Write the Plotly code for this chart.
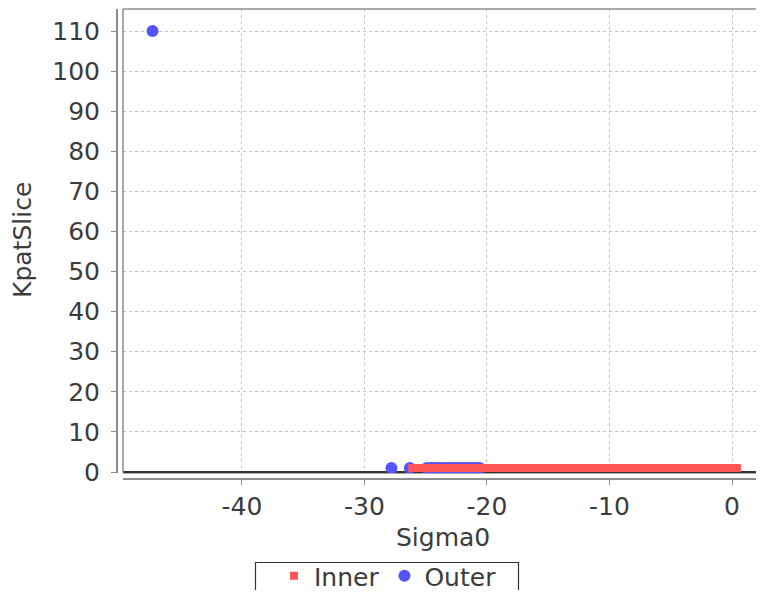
import plotly.graph_objects as go

# Inner series (red squares), KpatSlice vs Sigma0
inner_x = [-26.1, -25.6, -25.1, -24.6, -24.1, -23.6, -23.1, -22.6, -22.1, -21.6,
           -21.1, -20.6, -20.1, -19.6, -19.1, -18.6, -18.1, -17.6, -17.1, -16.6,
           -16.1, -15.6, -15.1, -14.6, -14.1, -13.6, -13.1, -12.6, -12.1, -11.6,
           -11.1, -10.6, -10.1, -9.6, -9.1, -8.6, -8.1, -7.6, -7.1, -6.6,
           -6.1, -5.6, -5.1, -4.6, -4.1, -3.6, -3.1, -2.6, -2.1, -1.6,
           -1.1, -0.6, -0.1, 0.4]
inner_y = [1] * len(inner_x)

# Outer series (blue circles)
outer_x = [-47.3, -27.8, -26.3, -24.9, -24.6, -24.4, -24.1, -23.9, -23.6, -23.4,
           -23.1, -22.9, -22.6, -22.4, -22.1, -21.9, -21.6, -21.4, -21.1, -20.9,
           -20.6]
outer_y = [110] + [1] * 20

x_ticks = [-40, -30, -20, -10, 0]
y_ticks = [0, 10, 20, 30, 40, 50, 60, 70, 80, 90, 100, 110]

# page body has an 8px margin; figure placed at (8, 8) in the window
W, H = 756, 582
OFF = 8
FONT = "DejaVu Sans"
TXT = "#3c3c3c"
AXC = "#8c8c8c"
GRID = "#c4c4c4"


def px_x(v):
    return (v - OFF) / W


def px_y(v):
    return (H - (v - OFF)) / H


fig = go.Figure()
fig.add_trace(go.Scatter(
    x=outer_x, y=outer_y, mode="markers", name="Outer", legendrank=2,
    marker=dict(symbol="circle", size=12, color="#5555ff", line=dict(width=0)),
))
fig.add_trace(go.Scatter(
    x=inner_x, y=inner_y, mode="markers", name="Inner", legendrank=1,
    marker=dict(symbol="square", size=8, color="#ff5555", line=dict(width=0)),
))

x_dom = [px_x(123), 1.0]
y_dom = [px_y(473), px_y(9)]

fig.update_layout(
    width=W, height=H,
    margin=dict(l=0, r=0, t=0, b=0, autoexpand=False),
    paper_bgcolor="white", plot_bgcolor="white",
    font=dict(family=FONT, size=24, color=TXT),
    showlegend=True,
    legend=dict(
        orientation="h", x=px_x(388), xanchor="center", y=px_y(576), yanchor="middle",
        borderwidth=0, bgcolor="rgba(0,0,0,0)",
        font=dict(family=FONT, size=25, color=TXT),
        itemsizing="trace",
    ),
    xaxis=dict(
        domain=x_dom, anchor="free", position=px_y(479),
        range=[-49.71, 2.61], tickvals=x_ticks, ticktext=[str(v) for v in x_ticks],
        showgrid=True, gridcolor=GRID, griddash="3px,3px", gridwidth=1,
        zeroline=False, showline=True, linecolor=AXC, linewidth=2,
        ticks="outside", ticklen=5, tickcolor=AXC, tickwidth=1,
        tickfont=dict(family=FONT, size=25, color=TXT),
    ),
    yaxis=dict(
        domain=y_dom, anchor="free", position=px_x(117),
        range=[-0.25, 115.49], tickvals=y_ticks, ticktext=[str(v) for v in y_ticks],
        showgrid=True, gridcolor=GRID, griddash="3px,3px", gridwidth=1,
        zeroline=True, zerolinecolor="#333333", zerolinewidth=1.5,
        showline=True, linecolor=AXC, linewidth=2, mirror=False,
        ticks="outside", ticklen=5, tickcolor=AXC, tickwidth=1,
        ticklabelstandoff=6,
        tickfont=dict(family=FONT, size=25, color=TXT),
    ),
    annotations=[
        dict(text="Sigma0", xref="paper", yref="paper", x=px_x(443),
             y=px_y(537), xanchor="center", yanchor="middle", showarrow=False,
             font=dict(family=FONT, size=25, color=TXT)),
        dict(text="KpatSlice", xref="paper", yref="paper", x=px_x(22),
             y=px_y(240), xanchor="center", yanchor="middle", showarrow=False,
             textangle=-90, font=dict(family=FONT, size=25, color=TXT)),
    ],
    shapes=[
        dict(type="line", xref="x domain", yref="y domain", x0=0, x1=1, y0=1, y1=1,
             line=dict(color=AXC, width=1.5), layer="above"),
        dict(type="line", xref="x domain", yref="y domain", x0=0, x1=0, y0=0, y1=1,
             line=dict(color=AXC, width=1.5), layer="above"),
        dict(type="line", xref="x domain", yref="y domain", x0=0, x1=1, y0=0, y1=0,
             line=dict(color=AXC, width=1.5), layer="below"),
        # legend frame
        dict(type="rect", xref="paper", yref="paper",
             x0=px_x(255.5), x1=px_x(518.5), y0=px_y(610), y1=px_y(562.5),
             line=dict(color="#333333", width=1.2), fillcolor="rgba(0,0,0,0)",
             layer="above"),
    ],
)

fig.write_html("out.html")
